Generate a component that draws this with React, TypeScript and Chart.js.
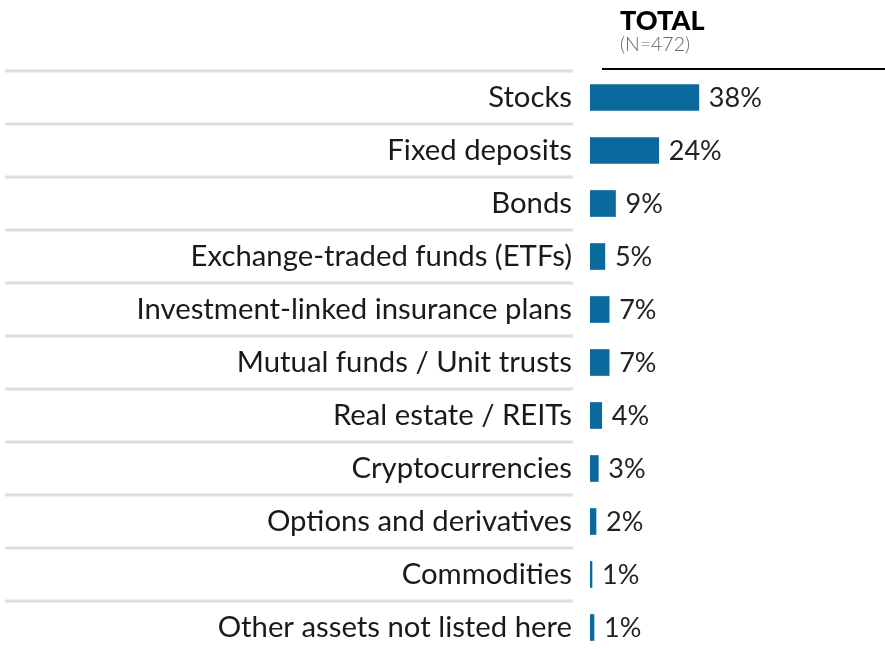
import React, { useEffect, useRef } from "react";
import { Chart, registerables } from "chart.js";

Chart.register(...registerables);

const categories = [
  "Stocks",
  "Fixed deposits",
  "Bonds",
  "Exchange-traded funds (ETFs)",
  "Investment-linked insurance plans",
  "Mutual funds / Unit trusts",
  "Real estate / REITs",
  "Cryptocurrencies",
  "Options and derivatives",
  "Commodities",
  "Other assets not listed here",
];
const barValues = [38, 24, 8.9, 5.2, 6.7, 6.7, 4.1, 2.9, 2.1, 0.7, 1.4];
const valueLabels = ["38%", "24%", "9%", "5%", "7%", "7%", "4%", "3%", "2%", "1%", "1%"];
const headerTitle = "TOTAL";
const headerSub = "(N=472)";

const W = 885;
const H = 660;
const FONT = "Lato, 'Noto Sans', sans-serif";

export default function App() {
  const ref = useRef<HTMLCanvasElement | null>(null);

  useEffect(() => {
    document.body.style.margin = "0";
    document.body.style.overflow = "hidden";
    document.documentElement.style.overflow = "hidden";
    const canvas = ref.current;
    if (!canvas) return;

    const decor = {
      id: "decor",
      afterDraw(chart: any) {
        const ctx = chart.ctx;
        const y = chart.scales.y;
        const step = Math.abs(y.getPixelForValue(1) - y.getPixelForValue(0));
        ctx.save();
        // separators
        ctx.strokeStyle = "#dedede";
        ctx.lineWidth = 3;
        for (let i = 0; i < categories.length; i++) {
          const py = Math.round(y.getPixelForValue(i) - step / 2);
          ctx.beginPath();
          ctx.moveTo(5, py);
          ctx.lineTo(573, py);
          ctx.stroke();
        }
        // header
        ctx.fillStyle = "#000";
        ctx.font = `900 27px ${FONT}`;
        ctx.textBaseline = "alphabetic";
        ctx.textAlign = "left";
        ctx.fillText(headerTitle, 620, 30);
        ctx.fillStyle = "#666";
        ctx.font = `300 19.5px ${FONT}`;
        ctx.fillText(headerSub, 620, 51);
        ctx.strokeStyle = "#000";
        ctx.lineWidth = 2;
        ctx.beginPath();
        ctx.moveTo(602, 69);
        ctx.lineTo(885, 69);
        ctx.stroke();
        // value labels
        const meta = chart.getDatasetMeta(0);
        ctx.fillStyle = "#222";
        ctx.font = `27px ${FONT}`;
        ctx.textBaseline = "middle";
        meta.data.forEach((bar: any, i: number) => {
          ctx.fillText(valueLabels[i], bar.x + 10, bar.y + 1);
        });
        ctx.restore();
      },
    };

    const chart = new Chart(canvas, {
      type: "bar",
      data: {
        labels: categories,
        datasets: [
          {
            data: barValues,
            backgroundColor: "#0b6a9d",
            barThickness: 26,
            borderWidth: 0,
          },
        ],
      },
      options: {
        indexAxis: "y",
        responsive: false,
        animation: false,
        layout: { padding: { top: 71, bottom: 6, left: 0, right: 0 } },
        plugins: {
          legend: { display: false },
          tooltip: { enabled: false },
        },
        scales: {
          x: {
            display: false,
            min: 0,
            max: 103,
          },
          y: {
            grid: { display: false, drawTicks: false, tickLength: 0 },
            border: { display: false },
            afterFit(scale: any) {
              scale.width = 590;
              scale.paddingTop = 0;
              scale.paddingBottom = 0;
            },
            ticks: {
              color: "#1a1a1a",
              font: { family: FONT, size: 29.3 },
              padding: 18,
              autoSkip: false,
            },
          },
        },
      },
      plugins: [decor],
    });
    return () => chart.destroy();
  }, []);

  return (
    <div style={{ width: W, height: H }}>
      <canvas ref={ref} width={W} height={H} style={{ display: "block" }} />
    </div>
  );
}
